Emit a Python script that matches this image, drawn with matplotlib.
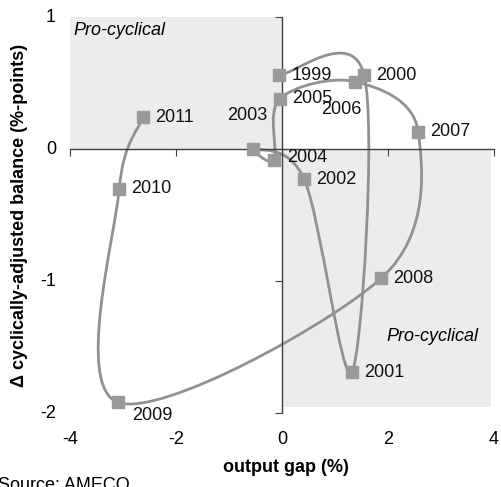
import matplotlib
matplotlib.use("Agg")

import matplotlib.pyplot as plt
import matplotlib.transforms as mtransforms
from matplotlib.path import Path
from matplotlib.patches import PathPatch, Rectangle
import numpy as np

plt.rcParams["font.family"] = ["Liberation Sans", "DejaVu Sans"]

# datos
anios = ["1999", "2000", "2001", "2002", "2003", "2004", "2005",
         "2006", "2007", "2008", "2009", "2010", "2011"]
brecha = [-0.05, 1.55, 1.32, 0.42, -0.55, -0.15, -0.04,
          1.38, 2.57, 1.87, -3.09, -3.07, -2.62]
saldo = [0.56, 0.56, -1.69, -0.23, 0.0, -0.08, 0.38,
         0.51, 0.13, -0.98, -1.92, -0.30, 0.24]

xticks = [-4, -2, 0, 2, 4]
yticks = [1, 0, -1, -2]

# desplazamiento de etiquetas (px): dx, dy, alineacion
offsets = {
    "2003": (-6, 33, "center"),
    "2006": (-14, -28, "center"),
    "2009": (14, -13, "left"),
    "2004": (13, 2, "left"),
}

gris = "#999999"
linea = "#919191"
sombra = "#ececec"
eje = "#404040"

fig = plt.figure(figsize=(5.02, 4.87), dpi=100)
ax = fig.add_axes([70 / 502, 74 / 487, 424 / 502, 396 / 487])
ax.set_xlim(-4, 4)
ax.set_ylim(-2, 1)

# zonas pro-ciclicas
ax.add_patch(Rectangle((-4.05, 0), 4.05, 1, color=sombra, zorder=0, lw=0))
ax.add_patch(Rectangle((0, -1.955), 3.94, 1.955, color=sombra, zorder=0, lw=0))

# curva suavizada (bezier tipo excel)
pts = np.column_stack([brecha, saldo])
n = len(pts)
verts = [pts[0]]
codes = [Path.MOVETO]
for i in range(n - 1):
    p0 = pts[i - 1] if i > 0 else pts[i]
    p1 = pts[i]
    p2 = pts[i + 1]
    p3 = pts[i + 2] if i + 2 < n else pts[i + 1]
    c1 = p1 + (p2 - p0) / 6
    c2 = p2 - (p3 - p1) / 6
    verts += [c1, c2, p2]
    codes += [Path.CURVE4] * 3
ax.add_patch(PathPatch(Path(verts, codes), fill=False, ec=linea, lw=2, zorder=2))

ax.plot(brecha, saldo, ls="none", marker="s", ms=8.6, color=gris,
        mec=gris, zorder=3)

for a, x, y in zip(anios, brecha, saldo):
    dx, dy, ha = offsets.get(a, (12, 0, "left"))
    ax.annotate(a, (x, y), xytext=(dx * 0.72, dy * 0.72),
                textcoords="offset points", ha=ha, va="center",
                fontsize=13, color="#111111", zorder=4)

# ejes cruzando en cero
for s in ["top", "right"]:
    ax.spines[s].set_visible(False)
ax.spines["left"].set_position(("data", 0))
ax.spines["bottom"].set_position(("data", 0))
for s in ["left", "bottom"]:
    ax.spines[s].set_color(eje)
    ax.spines[s].set_linewidth(1)
ax.set_xticks(xticks)
ax.set_yticks(yticks)
ax.tick_params(direction="out", length=5, color=eje, labelleft=False,
               labelbottom=False)

# etiquetas de ticks en posicion baja
tx = mtransforms.blended_transform_factory(ax.transData, ax.transAxes)
for v in xticks:
    ax.text(v, -26 / 396, str(v), transform=tx, ha="center", va="center",
            fontsize=13)
ty = mtransforms.blended_transform_factory(ax.transAxes, ax.transData)
for v in yticks:
    ax.text(-14 / 424, v, str(v), transform=ty, ha="right", va="center",
            fontsize=13)

ax.text(-3.94, 0.9, "Pro-cyclical", style="italic", fontsize=13,
        va="center", ha="left")
ax.text(3.7, -1.42, "Pro-cyclical", style="italic", fontsize=13,
        va="center", ha="right")

fig.text(286 / 502, 1 - 467 / 487, "output gap (%)", fontweight="bold",
         fontsize=13, ha="center", va="center")
fig.text(20 / 502, 1 - 215 / 487, "Δ cyclically-adjusted balance (%-points)",
         fontweight="bold", fontsize=13, rotation=90, ha="center", va="center")
fig.text(-2 / 502, 1 - 486 / 487, "Source: AMECO", fontsize=13,
         ha="left", va="center")

fig.savefig("out.png", dpi=100)
